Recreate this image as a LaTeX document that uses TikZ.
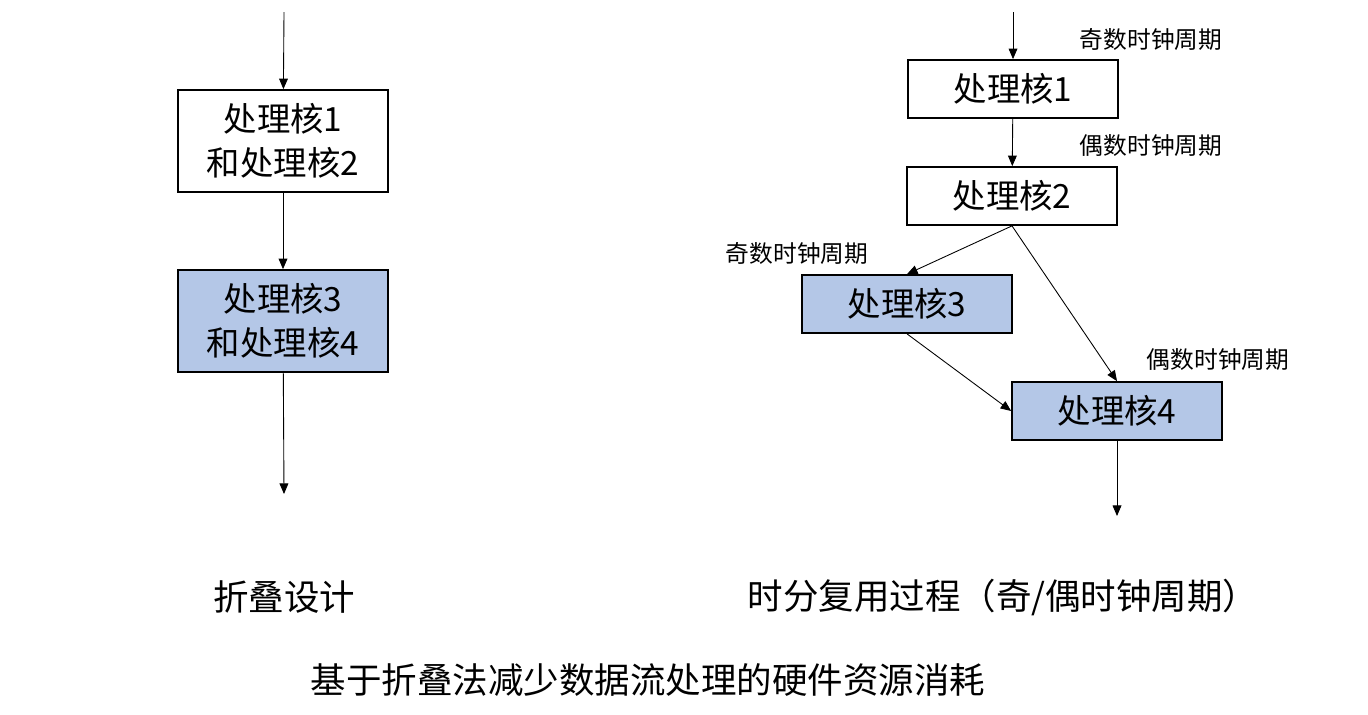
\documentclass[tikz,border=0pt]{standalone}
\usepackage{fontspec}
\setmainfont{Noto Sans CJK SC}
\usetikzlibrary{arrows.meta,positioning}
\definecolor{coreblue}{HTML}{B4C7E7}

\begin{document}
\begin{tikzpicture}
    [x=0.02cm,y=-0.02cm,
     pre/.style={{Triangle[length=6pt,width=5pt]}-,line width=0.5pt},
     core/.style={draw=black,line width=1pt,minimum width=4.2cm,align=center,font=\fontsize{19}{25}\selectfont},
     tall/.style={core,minimum height=2.04cm},
     flat/.style={core,minimum height=1.16cm},
     tick/.style={font=\fontsize{13.5}{16}\selectfont},
     caption/.style={font=\fontsize{20.2}{24}\selectfont}]
    \useasboundingbox (0,0) rectangle (1368,714);
    % folded design
    \coordinate (Lin) at (284,12);
    \node [tall] (L1) at (283,141) {处理核1\\和处理核2}
      edge [pre] (Lin);
    \node [tall,fill=coreblue] (L2) at (283,321) {处理核3\\和处理核4}
      edge [pre] (L1);
    \coordinate (Lout) at (284,494) edge [pre] (L2);
    % time multiplexing
    \coordinate (Rin) at (1013,12);
    \node [flat] (R1) at (1013,89) {处理核1}
      edge [pre] (Rin);
    \node [flat] (R2) at (1012,196) {处理核2}
      edge [pre] (R1);
    \node [flat,fill=coreblue] (R3) at (907,304) {处理核3};
    \node [flat,fill=coreblue] (R4) at (1117,411) {处理核4};
    \draw [pre] (R3.north) -- (R2.south);
    \draw [pre] (R4.north) -- (R2.south);
    \draw [pre] (R4.west) -- (R3.south);
    \coordinate (Rout) at (1117,516) edge [pre] (R4);
    \node [tick] (t1) at (1151,40) {奇数时钟周期};
    \node [tick] (t2) at (1151,146) {偶数时钟周期};
    \node [tick] (t3) at (797,254) {奇数时钟周期};
    \node [tick] (t4) at (1218,360) {偶数时钟周期};
    % captions
    \node [caption] (capL) at (284,597) {折叠设计};
    \node [caption] (capR) at (1003,597) {时分复用过程（奇/偶时钟周期）};
    \node [caption] (title) at (648,680) {基于折叠法减少数据流处理的硬件资源消耗};
  \end{tikzpicture}
\end{document}
